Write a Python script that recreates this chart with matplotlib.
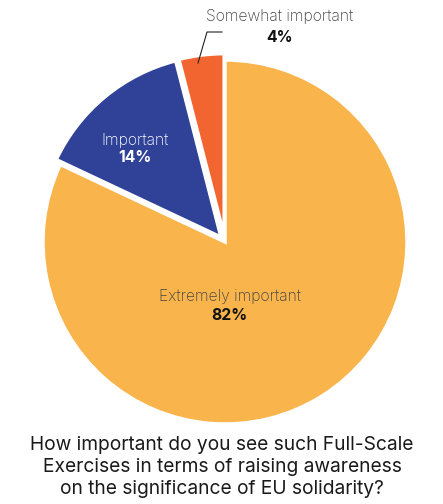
import matplotlib.pyplot as plt

# ── Data ─────────────────────────────────────────────────────────
categories = ["Extremely important", "Important", "Somewhat important"]
shares = [82, 14, 4]
colors = ["#F9B44B", "#2F4297", "#F26531"]
explode_frac = [0, 0.035, 0.035]
title = ("How important do you see such Full-Scale\n"
         "Exercises in terms of raising awareness\n"
         "on the significance of EU solidarity?")

FONT = ["Inter", "DejaVu Sans"]

# ── Figure in pixel coordinates ──────────────────────────────────
W, H = 443, 504
fig = plt.figure(figsize=(W / 100, H / 100), dpi=100)
ax = fig.add_axes([0, 0, 1, 1])

cx, cy, r = 225, H - 242, 182
# pie's explode is in data units, so scale by the radius
wedges, _ = ax.pie(shares, colors=colors,
                   explode=[e * r for e in explode_frac],
                   startangle=90, counterclock=False,
                   center=(cx, cy), radius=r,
                   wedgeprops=dict(edgecolor="white", linewidth=2.5))
ax.set_xlim(0, W)
ax.set_ylim(0, H)
ax.set_aspect("equal")
ax.axis("off")

# ── Labels ───────────────────────────────────────────────────────
lab = dict(ha="center", va="center", fontsize=11.3, family=FONT)
ax.text(230, H - 297, categories[0], color="#444444", fontweight="light", **lab)
ax.text(229, H - 316, f"{shares[0]}%", color="#111111", fontweight="bold", **lab)

ax.text(135, H - 140, categories[1], color="white", fontweight="light", **lab)
ax.text(135, H - 158, f"{shares[1]}%", color="white", fontweight="bold", **lab)

ax.text(280, H - 17, categories[2], color="#444444", fontweight="light", **lab)
ax.text(280, H - 37, f"{shares[2]}%", color="#111111", fontweight="bold", **lab)
ax.plot([222, 207, 198], [H - 32, H - 32, H - 63], color="#222222", lw=0.8)

# ── Question below the pie ───────────────────────────────────────
ax.text(222, H - 467, title, ha="center", va="center",
        fontsize=13.8, color="#1a1a1a", family=FONT, linespacing=1.25)

fig.savefig("out.png", dpi=100)
